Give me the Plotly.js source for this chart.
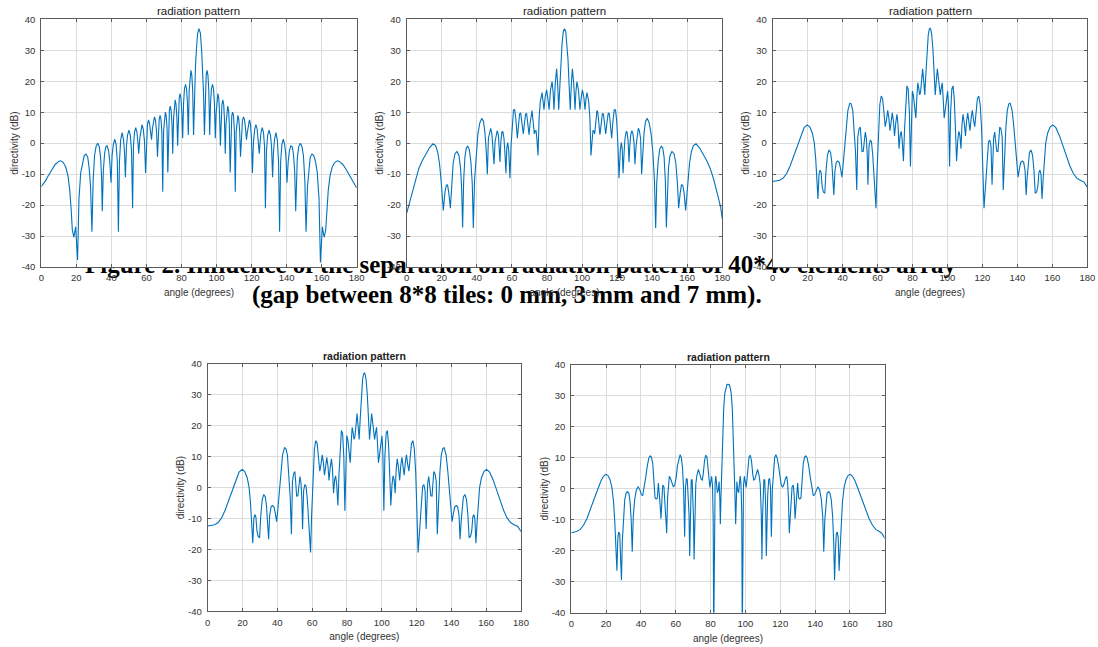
<!DOCTYPE html>
<html>
<head>
<meta charset="utf-8">
<script src="https://cdn.plot.ly/plotly-3.0.1.min.js"></script>
<style>
html,body{margin:0;padding:0;background:#fff;width:1098px;height:647px;overflow:hidden;}
#caption{position:absolute;left:0;top:0;width:1098px;height:647px;z-index:0;font-family:"Liberation Serif","Times New Roman",serif;font-weight:bold;font-size:25px;line-height:25px;color:#000;}
#caption div{position:absolute;white-space:nowrap;}
#chart{position:absolute;left:0;top:0;width:1098px;height:647px;z-index:1;}
</style>
</head>
<body>
<div id="caption"><div id="cap1" style="left:85px;top:252px;"></div><div id="cap2" style="left:252px;top:282px;"></div></div>
<div id="chart"></div>
<script>
// ---------- text ----------
const captionLines = [
  "Figure 2. Influence of the separation on radiation pattern of 40*40 elements array",
  "(gap between 8*8 tiles: 0 mm, 3 mm and 7 mm)."
];
const plotTitle = "radiation pattern";
const xTitle = "angle (degrees)";
const yTitle = "directivity (dB)";
const xTickVals = [0,20,40,60,80,100,120,140,160,180];
const xTickText = ["0","20","40","60","80","100","120","140","160","180"];
const yTickVals = [-40,-30,-20,-10,0,10,20,30,40];
const yTickText = ["-40","-30","-20","-10","0","10","20","30","40"];

// ---------- data: gap 0 mm (top left) ----------
const angGap0 = [0,2,4,6,8,10,11,12.5,14,15.2,16.2,17,17.7,18.6,19.6,20.7,21.5,22.5,23.5,24.5,25.5,26.5,27.3,28.1,28.9,29.6,30.4,31.3,32.2,33.1,33.9,34.4,34.8,35.4,36.1,36.8,37.6,38.4,39.1,39.8,40.4,41.1,41.9,42.7,43.4,44,44.6,45.3,46.1,46.9,47.5,48,48.6,49.2,50,50.8,51.5,52.1,52.6,53.2,53.9,54.6,55.1,55.6,56.2,56.8,57.5,58.2,58.9,59.5,60.1,60.6,61.2,61.8,62.4,62.9,63.5,64,64.6,65.2,65.8,66.3,66.8,67.3,67.8,68.3,68.8,69.3,69.8,70.3,70.8,71.3,71.8,72.2,72.7,73.1,73.6,74.1,74.6,75,75.5,75.9,76.4,76.9,77.4,77.8,78.3,78.7,79.2,79.7,80.2,80.7,81.2,81.7,82.3,82.9,83.4,83.9,84.4,84.9,85.4,85.9,86.4,86.9,87.4,88,88.5,89.2,90,
90.8,91.5,92,92.6,93.1,93.6,94.1,94.6,95.1,95.6,96.1,96.6,97.1,97.7,98.3,98.8,99.3,99.8,100.3,100.8,101.3,101.7,102.2,102.6,103.1,103.6,104.1,104.5,105,105.4,105.9,106.4,106.9,107.3,107.8,108.2,108.7,109.2,109.7,110.2,110.7,111.2,111.7,112.2,112.7,113.2,113.7,114.2,114.8,115.4,116,116.5,117.1,117.6,118.2,118.8,119.4,119.9,120.5,121.1,121.8,122.5,123.2,123.8,124.4,124.9,125.4,126.1,126.8,127.4,127.9,128.5,129.2,130,130.8,131.4,132,132.5,133.1,133.9,134.7,135.4,136,136.6,137.3,138.1,138.9,139.6,140.2,140.9,141.6,142.4,143.2,143.9,144.6,145.2,145.6,146.1,146.9,147.8,148.7,149.6,150.4,151.1,151.9,152.7,153.5,154.5,155.5,156.5,157.5,158.5,159.3,160.4,161.4,162.3,163,163.8,164.8,166,167.5,169,170,172,174,176,178,180];
const dirGap0 = [-14,-12.5,-10.5,-8.5,-6.8,-5.9,-5.7,-6.2,-7.8,-10.5,-15,-21,-28,-30.4,-27,-37.7,-18,-9.5,-6,-4,-3.5,-4.5,-8,-14,-28.6,-12,-4,-1,0,-1.2,-5,-11,-22,-9,-3.5,-1.2,-0.9,-2.5,-6,-12.8,-4,-0.5,1.3,-0.5,-6,-28.6,-6,1,3.4,1.2,-3,-11,-1,2.5,4.2,2.6,-2.5,-21,-1,3.5,5,3.5,0.5,-3.4,1.5,4.5,6,4.5,0.5,-9.6,2,6,7.5,6.2,3.5,1.1,5,7.5,8.5,7.3,3.5,-4.4,4,7.8,9,7.8,3.5,-15.7,4,8.8,10,8.8,4.5,-9.5,6,10.5,12,10.5,6,-3.4,8,12.5,14,12.5,8,-0.8,10,14.5,16,14.5,10,1.6,13,17.5,19,17.5,13,2.6,17,22,23.5,22,17,2.6,16,25,30,35.5,37,
35.5,30,25,16,2.6,17,22,23.5,22,17,2.6,13,17.5,19,17.5,13,1.6,10,14.5,16,14.5,10,-0.8,8,12.5,14,12.5,8,-3.4,6,10.5,12,10.5,6,-9.5,4.5,8.8,10,8.8,4,-15.7,3.5,7.8,9,7.8,4,-4.4,3.5,7.3,8.5,7.5,5,1.1,3.5,6.2,7.5,6,2,-9.6,0.5,4.5,6,4.5,1.5,-3.4,0.5,3.5,5,3.5,-1,-21,-2.5,2.6,4.2,2.5,-1,-11,-3,1.2,3.4,1,-6,-28.6,-6,-0.5,1.3,-0.5,-4,-12.8,-6,-2.5,-0.9,-1.2,-3.5,-9,-22,-11,-5,-1.2,0,-1,-4,-12,-28.6,-14,-8,-4.5,-3.5,-4,-6,-9.5,-18,-38.5,-27,-30.4,-28,-21,-15,-10.5,-7.8,-6.2,-5.7,-5.9,-6.8,-8.5,-10.5,-12.5,-14.5];

// ---------- data: gap 3 mm (top middle) ----------
const angGap3 = [0,1,3,5,7,9,11,13,15,16.5,17.7,18.7,19.6,20.9,21.8,22.6,23.3,24,24.9,25.6,26.5,27.5,28.7,29.8,30.7,31.3,31.9,32.5,33.2,34,34.8,35.7,36.6,37.4,38,38.7,39.6,40.6,41.7,42.8,43.8,44.6,45.3,46,46.6,47.3,47.9,48.6,49.2,49.8,50.4,51.1,51.6,52.3,52.8,53.2,53.7,54.3,54.8,55.5,56,56.6,57.1,57.6,58.2,58.9,59.5,60.2,60.9,61.6,62.3,63.1,63.8,64.4,65,65.7,66.5,67.2,67.8,68.4,69.1,69.8,70.4,71,71.5,72.1,72.8,73.3,73.8,74.3,74.9,75.5,76.2,77.2,77.8,78.3,79,79.8,80.5,81.2,82,82.9,83.5,84,84.7,85.5,86.1,86.7,87.4,88,88.6,89.3,90,
90.7,91.4,92,92.6,93.3,93.9,94.5,95.3,96,96.5,97.1,98,98.8,99.5,100.2,101,101.7,102.2,102.8,103.8,104.5,105.1,105.7,106.2,106.7,107.2,107.9,108.5,109,109.6,110.2,110.9,111.6,112.2,112.8,113.5,114.3,115,115.6,116.2,116.9,117.7,118.4,119.1,119.8,120.5,121.1,121.8,122.4,122.9,123.4,124,124.5,125.2,125.7,126.3,126.8,127.2,127.7,128.4,128.9,129.6,130.2,130.8,131.4,132.1,132.7,133.4,134,134.7,135.4,136.2,137.2,138.3,139.4,140.4,141.3,142,142.6,143.4,144.3,145.2,146,146.8,147.5,148.1,148.7,149.3,150.2,151.3,152.5,153.5,154.4,155.1,156,156.7,157.4,158.2,159.1,160.4,161.3,162.3,163.5,165,167,169,171,173,175,177,179,180];
const dirGap3 = [-22.6,-20.5,-16,-11.5,-8,-5.5,-3.5,-1.5,-0.2,-0.8,-3,-6.5,-12,-21.7,-16,-13.6,-13.5,-16,-21,-13,-6.5,-3.5,-2.7,-4,-8,-14,-27.2,-12,-4.5,-1.5,-1,-2,-6,-13,-27.4,-12,-3,3,6.5,8,7,3.5,-2,-10,1.5,4,4.8,3,-1,-6.8,0.5,3.5,4,2.5,-1.5,-6.1,0.5,3.5,3.8,1.5,-3,-9.7,-1.5,0.2,-2.5,-11.3,-1,7,10.7,10.8,7.5,1.6,6.5,9.5,9.8,7,3,6.5,9.4,9.5,6,2.7,6.5,10,10.5,7,3,4,4,1,-4,8,13.5,16.3,14,10.8,15,17.2,14.5,10.8,17,19.9,16.5,10.8,19,24,19,10.8,19,27,32,36,37,
36,32,27,19,10.8,19,24,19,10.8,16.5,19.9,17,10.8,14.5,17.2,15,10.8,14,16.3,13.5,8,-4,1,4,4,3,7,10.5,10,6.5,2.7,6,9.5,9.4,6.5,3,7,9.8,9.5,6.5,1.6,7.5,10.8,10.7,7,-1,-11.3,-2.5,0.2,-1.5,-9.7,-3,1.5,3.8,3.5,0.5,-6.1,-1.5,2.5,4,3.5,0.5,-6.8,-1,3,4.8,4,1.5,-10,-2,3.5,7,8,6.5,3,-3,-12,-27.4,-13,-6,-2,-1,-1.5,-4.5,-12,-27.2,-14,-8,-4,-2.7,-3.5,-6.5,-13,-21,-16,-13.5,-13.6,-16,-21.7,-12,-6.5,-3,-0.8,-0.2,-1.5,-3.5,-5.5,-8,-11.5,-16,-20.5,-24.5];

// ---------- data: gap 7 mm (top right and bottom left) ----------
const angGap7 = [0,2,4,6,8,10,12,14,16,18,19.8,21.3,22.7,23.8,24.6,25.2,25.9,26.5,27.1,27.7,28.3,29,29.8,30.5,31.3,32.2,33.1,33.8,34.4,35,35.6,36.4,37.2,38.1,38.9,39.6,40.3,41.1,42,43,44.1,44.9,45.8,46.6,47.4,48.1,48.7,49.4,50.1,50.6,51.1,51.8,52.4,53,53.6,54.1,54.5,55.1,55.8,56.5,57.2,57.8,58.5,59.1,59.7,60.5,61.3,62.1,62.9,63.7,64.4,65.1,65.8,66.5,67.1,67.7,68.4,69.1,69.7,70.4,71.1,71.7,72.3,72.9,73.5,74.1,74.8,75.4,76.1,76.8,77.5,78.2,78.8,79.4,79.9,80.5,81.2,81.9,82.5,83,83.5,84.1,84.6,85.2,85.8,86.4,87,87.6,88.3,89,89.6,90,
90.4,91,91.7,92.4,93,93.6,94.2,94.8,95.4,95.9,96.5,97,97.5,98.1,98.8,99.5,100.1,100.6,101.2,101.8,102.5,103.2,103.9,104.6,105.2,105.9,106.5,107.1,107.7,108.3,108.9,109.6,110.3,110.9,111.6,112.3,112.9,113.5,114.2,114.9,115.6,116.3,117.1,117.9,118.7,119.5,120.3,120.9,121.5,122.2,122.8,123.5,124.2,124.9,125.5,125.9,126.4,127,127.6,128.2,128.9,129.4,129.9,130.6,131.3,131.9,132.6,133.4,134.2,135.1,135.9,137,138,138.9,139.7,140.4,141.1,141.9,142.8,143.6,144.4,145,145.6,146.2,146.9,147.8,148.7,149.5,150.2,151,151.7,152.3,152.9,153.5,154.1,154.8,155.4,156.2,157.3,158.7,160.2,162,164,166,168,170,172,174,176,178,180];
const dirGap7 = [-12.4,-12.3,-12,-11.3,-9.8,-7.3,-4.2,-1,2.5,5,5.9,5.2,3.2,0,-5,-11,-18,-10,-8.7,-9.5,-14,-15.8,-16.2,-9,-4,-2.2,-3,-6,-11,-16.7,-9,-6.2,-5.8,-6.3,-8.5,-11,-7,-1.5,5,10.5,12.9,12.7,10.5,5,-3,-15.1,2,4.6,5.2,1.5,-2.7,-2.6,1,3.6,1.5,-4,-13.4,-1,1,0.5,-3.5,-9,-16,-21,-9,5,12.5,15.2,14.3,9.5,5.3,7.5,10.6,8,4,6.5,9.8,7,2.3,6.5,9.3,6,-1.8,2.5,3.8,1,-5.8,4,14,18.5,17.5,10,-7.5,12,16.8,15.5,11,8.1,15,19.5,18,15.6,16.5,21,24,20,15.6,22,30,35,36.8,37.2,
36.8,35,30,22,15.6,20,24,21,16.5,15.6,18,19.5,15,8.1,11,15.5,16.8,12,-7.5,10,17.5,18.5,14,4,-5.8,1,3.8,2.5,-1.8,6,9.3,6.5,2.3,7,9.8,6.5,4,8,10.6,7.5,5.3,9.5,14.3,15.2,12.5,5,-9,-21,-16,-9,-3.5,0.5,1,-1,-13.4,-4,1.5,3.6,1,-2.6,-2.7,1.5,5.2,4.6,2,-15.1,-3,5,10.5,12.7,12.9,10.5,5,-1.5,-7,-11,-8.5,-6.3,-5.8,-6.2,-9,-16.7,-11,-6,-3,-2.2,-4,-9,-16.2,-15.8,-14,-9.5,-8.7,-10,-18,-11,-5,0,3.2,5.2,5.9,5,2.5,-1,-4.2,-7.3,-9.8,-11.3,-12,-12.5,-14.2];

// ---------- data: bottom right pattern ----------
const angPatternE = [0,1.5,3,5,7,9,11,13,15,17,18.5,19.8,21,22.2,23.3,24.3,25,25.6,26.2,26.7,27.2,27.8,28.3,28.8,29.3,29.9,30.7,31.6,32.3,33.1,33.8,34.4,35,35.6,36.4,37.4,38.4,39.4,40.3,41,41.8,42.7,43.7,44.6,45.3,46,46.8,47.5,48.1,48.8,49.4,50,50.5,51,51.5,52,52.5,53.2,53.8,54.3,54.8,55.3,55.8,56.3,57,57.8,58.6,59.4,60.2,61,61.8,62.5,63.2,63.9,64.5,65.1,65.6,66.1,66.6,67.2,67.6,68,68.4,68.9,69.4,69.9,70.2,70.5,70.9,71.5,72.2,73,73.8,74.6,75.2,75.8,76.5,77.2,77.9,78.5,79.1,79.6,80.2,80.6,81.1,81.5,81.8,82.1,82.6,83,83.5,83.9,84.4,84.9,85.3,85.6,86,86.5,87,87.5,88.1,88.8,89.4,90,
90.6,91.2,91.9,92.5,93,93.5,94,94.4,94.7,95.1,95.6,96.1,96.5,97,97.4,97.9,98.2,98.5,98.9,99.4,99.8,100.4,100.9,101.5,102.1,102.8,103.5,104.2,104.8,105.4,106.2,107,107.8,108.5,109.1,109.5,109.8,110.1,110.6,111.1,111.6,112,112.4,112.8,113.4,113.9,114.4,114.9,115.5,116.1,116.8,117.5,118.2,119,119.8,120.6,121.4,122.2,123,123.7,124.2,124.7,125.2,125.7,126.2,126.8,127.5,128,128.5,129,129.5,130,130.6,131.2,131.9,132.5,133.2,134,134.7,135.4,136.3,137.3,138.2,139,139.7,140.6,141.6,142.6,143.6,144.4,145,145.6,146.2,146.9,147.7,148.4,149.3,150.1,150.7,151.2,151.7,152.2,152.8,153.3,153.8,154.4,155,155.7,156.7,157.8,159,160.2,161.5,163,165,167,169,171,173,175,177,178.5,180];
const dirPatternE = [-14.2,-14.1,-13.8,-13.2,-11.8,-9.6,-6.8,-3.5,-0.5,2.5,4,4.6,4.3,3,0.5,-4.5,-11,-18,-26.5,-16,-14,-14.6,-20,-29.5,-17,-9,-3.5,-1.2,-1,-1.5,-4.5,-10,-20.3,-9,-3.5,-0.3,0.6,-0.4,-2,-2.2,0,3.5,7.5,10,10.6,10.2,8,3.5,-3,-3.3,-3,1.8,-1,-5,-9.7,-2,1.2,0.6,-4,-9,-14.4,-3,2,4,3.3,1.5,0.6,1.2,3.5,7.5,10,11,10,6.5,0,-15.5,0.5,3.3,3,-2,-8,-21.7,-5,2.8,3,-3,-10,-22.8,-8,1.5,4.5,6.2,4.8,3,2.8,4.8,9,10.8,10.3,7,3,0.4,2.5,4,1,-10,-48,-8,2,4.1,1,-1.3,-0.5,2.3,-3,-11.5,-2,8,18,25.5,30.5,32.8,33.6,33.7,
33.6,32.8,30.5,25.5,18,8,-2,-11.5,-3,2.3,-0.5,-1.3,1,4.1,2,-8,-48,-10,1,4,2.5,0.4,3,7,10.3,10.8,9,4.8,2.8,3,4.8,6.2,4.5,1.5,-8,-22.8,-10,-3,3,2.8,-5,-21.7,-8,-2,3,3.3,0.5,-15.5,0,6.5,10,11,10,7.5,3.5,1.2,0.6,1.5,3.3,4,2,-3,-14.4,-9,-4,0.6,1.2,-2,-9.7,-5,-1,1.8,-3,-3.3,-3,3.5,8,10.2,10.6,10,7.5,3.5,0,-2.2,-2,-0.4,0.6,-0.3,-3.5,-9,-20.3,-10,-4.5,-1.5,-1,-1.2,-3.5,-9,-17,-29.5,-20,-14.6,-14,-16,-26.5,-18,-11,-4.5,0.5,3,4.3,4.6,4,2.5,-0.5,-3.5,-6.8,-9.6,-11.8,-13.2,-13.8,-14.5,-16];

// ---------- layout ----------
document.getElementById('cap1').textContent = captionLines[0];
document.getElementById('cap2').textContent = captionLines[1];

const FONT = '"Liberation Sans", Arial, Helvetica, sans-serif';
const panels = [
  {ang: angGap0, dir: dirGap0, xd:[0.03761,0.32486], yd:[0.58733,0.97017], bold:false},
  {ang: angGap3, dir: dirGap3, xd:[0.37040,0.65783], yd:[0.58733,0.97017], bold:false},
  {ang: angGap7, dir: dirGap7, xd:[0.70373,0.99026], yd:[0.58733,0.97017], bold:false},
  {ang: angGap7, dir: dirGap7, xd:[0.18916,0.47450], yd:[0.05518,0.43740], bold:true},
  {ang: angPatternE, dir: dirPatternE, xd:[0.52031,0.80574], yd:[0.05301,0.43632], bold:true}
];

const axCol = '#5c5c5c';
const data = [];
const layout = {
  width: 1098, height: 647,
  margin: {l:0, r:0, t:0, b:0},
  paper_bgcolor: 'rgba(0,0,0,0)',
  plot_bgcolor: '#ffffff',
  showlegend: false,
  font: {family: FONT, color: '#333'},
  annotations: []
};

panels.forEach((p, i) => {
  const n = i === 0 ? '' : String(i + 1);
  data.push({
    type: 'scatter', mode: 'lines',
    x: p.ang, y: p.dir,
    xaxis: 'x' + n, yaxis: 'y' + n,
    line: {color: '#0072BD', width: 1.1},
    hoverinfo: 'skip'
  });
  layout['xaxis' + n] = {
    domain: p.xd, anchor: 'y' + n, range: [0, 180],
    tickmode: 'array', tickvals: xTickVals, ticktext: xTickText,
    showgrid: true, gridcolor: '#dcdcdc', gridwidth: 1,
    showline: true, mirror: 'ticks', linecolor: axCol, linewidth: 1,
    ticks: 'inside', ticklen: 3, tickcolor: axCol,
    tickfont: {family: FONT, size: 9.5, color: '#333'},
    ticklabelstandoff: 2,
    zeroline: false, fixedrange: true, automargin: false,
    title: {text: xTitle, font: {family: FONT, size: 10, color: '#333'}, standoff: 6}
  };
  layout['yaxis' + n] = {
    domain: p.yd, anchor: 'x' + n, range: [-40, 40],
    tickmode: 'array', tickvals: yTickVals, ticktext: yTickText,
    showgrid: true, gridcolor: '#dcdcdc', gridwidth: 1,
    showline: true, mirror: 'ticks', linecolor: axCol, linewidth: 1,
    ticks: 'inside', ticklen: 3, tickcolor: axCol,
    tickfont: {family: FONT, size: 9.5, color: '#333'},
    ticklabelstandoff: 3,
    zeroline: false, fixedrange: true, automargin: false,
    title: {text: yTitle, font: {family: FONT, size: 10, color: '#333'}, standoff: 1}
  };
  layout.annotations.push({
    text: plotTitle, xref: 'paper', yref: 'paper',
    x: (p.xd[0] + p.xd[1]) / 2, y: p.yd[1],
    xanchor: 'center', yanchor: 'bottom', showarrow: false,
    font: {family: FONT, size: p.bold ? 10.5 : 11.5, color: '#222', weight: p.bold ? 'bold' : 'normal'}
  });
});

Plotly.newPlot('chart', data, layout, {staticPlot: true, displayModeBar: false});
</script>
</body>
</html>
